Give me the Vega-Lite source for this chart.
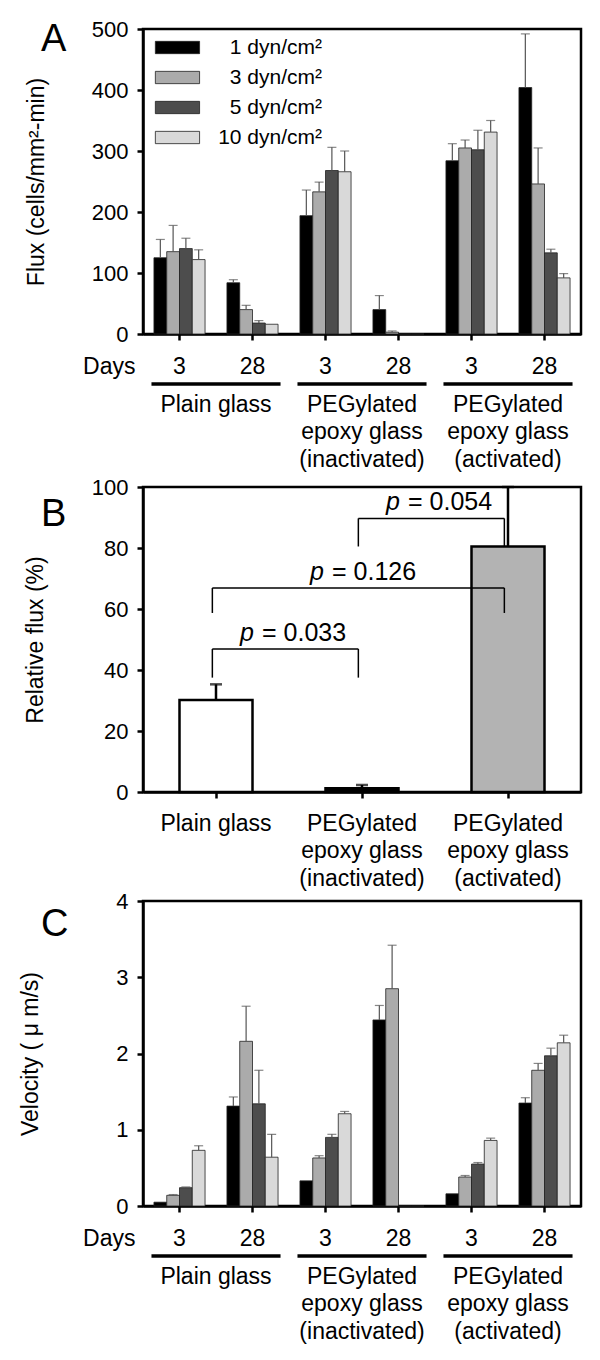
{
  "$schema": "https://vega.github.io/schema/vega-lite/v6.json",
  "background": "white",
  "padding": {"left": 17, "top": 16, "right": 5, "bottom": 5},
  "bounds": "flush",
  "spacing": 153,
  "resolve": {"scale": {"color": "independent"}, "legend": {"color": "independent"}},
  "datasets": {
    "flux": [
      {"surface": "Plain glass", "days": "3", "slot": "Plain glass 3", "shear": "1 dyn/cm²", "value": 125, "upper": 155},
      {"surface": "Plain glass", "days": "3", "slot": "Plain glass 3", "shear": "3 dyn/cm²", "value": 135, "upper": 178},
      {"surface": "Plain glass", "days": "3", "slot": "Plain glass 3", "shear": "5 dyn/cm²", "value": 140, "upper": 157},
      {"surface": "Plain glass", "days": "3", "slot": "Plain glass 3", "shear": "10 dyn/cm²", "value": 122, "upper": 138},
      {"surface": "Plain glass", "days": "28", "slot": "Plain glass 28", "shear": "1 dyn/cm²", "value": 84, "upper": 89},
      {"surface": "Plain glass", "days": "28", "slot": "Plain glass 28", "shear": "3 dyn/cm²", "value": 40, "upper": 47},
      {"surface": "Plain glass", "days": "28", "slot": "Plain glass 28", "shear": "5 dyn/cm²", "value": 18, "upper": 22},
      {"surface": "Plain glass", "days": "28", "slot": "Plain glass 28", "shear": "10 dyn/cm²", "value": 16, "upper": null},
      {"surface": "PEGylated epoxy glass (inactivated)", "days": "3", "slot": "Inactivated 3", "shear": "1 dyn/cm²", "value": 194, "upper": 236},
      {"surface": "PEGylated epoxy glass (inactivated)", "days": "3", "slot": "Inactivated 3", "shear": "3 dyn/cm²", "value": 233, "upper": 249},
      {"surface": "PEGylated epoxy glass (inactivated)", "days": "3", "slot": "Inactivated 3", "shear": "5 dyn/cm²", "value": 268, "upper": 306},
      {"surface": "PEGylated epoxy glass (inactivated)", "days": "3", "slot": "Inactivated 3", "shear": "10 dyn/cm²", "value": 266, "upper": 300},
      {"surface": "PEGylated epoxy glass (inactivated)", "days": "28", "slot": "Inactivated 28", "shear": "1 dyn/cm²", "value": 40, "upper": 63},
      {"surface": "PEGylated epoxy glass (inactivated)", "days": "28", "slot": "Inactivated 28", "shear": "3 dyn/cm²", "value": 3, "upper": 5},
      {"surface": "PEGylated epoxy glass (inactivated)", "days": "28", "slot": "Inactivated 28", "shear": "5 dyn/cm²", "value": 0, "upper": null},
      {"surface": "PEGylated epoxy glass (inactivated)", "days": "28", "slot": "Inactivated 28", "shear": "10 dyn/cm²", "value": 0, "upper": null},
      {"surface": "PEGylated epoxy glass (activated)", "days": "3", "slot": "Activated 3", "shear": "1 dyn/cm²", "value": 284, "upper": 312},
      {"surface": "PEGylated epoxy glass (activated)", "days": "3", "slot": "Activated 3", "shear": "3 dyn/cm²", "value": 305, "upper": 318},
      {"surface": "PEGylated epoxy glass (activated)", "days": "3", "slot": "Activated 3", "shear": "5 dyn/cm²", "value": 302, "upper": 334},
      {"surface": "PEGylated epoxy glass (activated)", "days": "3", "slot": "Activated 3", "shear": "10 dyn/cm²", "value": 331, "upper": 350},
      {"surface": "PEGylated epoxy glass (activated)", "days": "28", "slot": "Activated 28", "shear": "1 dyn/cm²", "value": 404, "upper": 492},
      {"surface": "PEGylated epoxy glass (activated)", "days": "28", "slot": "Activated 28", "shear": "3 dyn/cm²", "value": 246, "upper": 305},
      {"surface": "PEGylated epoxy glass (activated)", "days": "28", "slot": "Activated 28", "shear": "5 dyn/cm²", "value": 133, "upper": 139},
      {"surface": "PEGylated epoxy glass (activated)", "days": "28", "slot": "Activated 28", "shear": "10 dyn/cm²", "value": 92, "upper": 99}
    ],
    "velocity": [
      {"surface": "Plain glass", "days": "3", "slot": "Plain glass 3", "shear": "1 dyn/cm²", "value": 0.05, "upper": null},
      {"surface": "Plain glass", "days": "3", "slot": "Plain glass 3", "shear": "3 dyn/cm²", "value": 0.14, "upper": 0.15},
      {"surface": "Plain glass", "days": "3", "slot": "Plain glass 3", "shear": "5 dyn/cm²", "value": 0.24, "upper": 0.25},
      {"surface": "Plain glass", "days": "3", "slot": "Plain glass 3", "shear": "10 dyn/cm²", "value": 0.73, "upper": 0.79},
      {"surface": "Plain glass", "days": "28", "slot": "Plain glass 28", "shear": "1 dyn/cm²", "value": 1.31, "upper": 1.43},
      {"surface": "Plain glass", "days": "28", "slot": "Plain glass 28", "shear": "3 dyn/cm²", "value": 2.16, "upper": 2.62},
      {"surface": "Plain glass", "days": "28", "slot": "Plain glass 28", "shear": "5 dyn/cm²", "value": 1.34, "upper": 1.78},
      {"surface": "Plain glass", "days": "28", "slot": "Plain glass 28", "shear": "10 dyn/cm²", "value": 0.64, "upper": 0.94},
      {"surface": "PEGylated epoxy glass (inactivated)", "days": "3", "slot": "Inactivated 3", "shear": "1 dyn/cm²", "value": 0.33, "upper": null},
      {"surface": "PEGylated epoxy glass (inactivated)", "days": "3", "slot": "Inactivated 3", "shear": "3 dyn/cm²", "value": 0.63, "upper": 0.66},
      {"surface": "PEGylated epoxy glass (inactivated)", "days": "3", "slot": "Inactivated 3", "shear": "5 dyn/cm²", "value": 0.9, "upper": 0.94},
      {"surface": "PEGylated epoxy glass (inactivated)", "days": "3", "slot": "Inactivated 3", "shear": "10 dyn/cm²", "value": 1.21, "upper": 1.24},
      {"surface": "PEGylated epoxy glass (inactivated)", "days": "28", "slot": "Inactivated 28", "shear": "1 dyn/cm²", "value": 2.44, "upper": 2.63},
      {"surface": "PEGylated epoxy glass (inactivated)", "days": "28", "slot": "Inactivated 28", "shear": "3 dyn/cm²", "value": 2.85, "upper": 3.42},
      {"surface": "PEGylated epoxy glass (inactivated)", "days": "28", "slot": "Inactivated 28", "shear": "5 dyn/cm²", "value": 0, "upper": null},
      {"surface": "PEGylated epoxy glass (inactivated)", "days": "28", "slot": "Inactivated 28", "shear": "10 dyn/cm²", "value": 0, "upper": null},
      {"surface": "PEGylated epoxy glass (activated)", "days": "3", "slot": "Activated 3", "shear": "1 dyn/cm²", "value": 0.16, "upper": null},
      {"surface": "PEGylated epoxy glass (activated)", "days": "3", "slot": "Activated 3", "shear": "3 dyn/cm²", "value": 0.38, "upper": 0.4},
      {"surface": "PEGylated epoxy glass (activated)", "days": "3", "slot": "Activated 3", "shear": "5 dyn/cm²", "value": 0.55, "upper": 0.57},
      {"surface": "PEGylated epoxy glass (activated)", "days": "3", "slot": "Activated 3", "shear": "10 dyn/cm²", "value": 0.86, "upper": 0.89},
      {"surface": "PEGylated epoxy glass (activated)", "days": "28", "slot": "Activated 28", "shear": "1 dyn/cm²", "value": 1.35, "upper": 1.42},
      {"surface": "PEGylated epoxy glass (activated)", "days": "28", "slot": "Activated 28", "shear": "3 dyn/cm²", "value": 1.78, "upper": 1.87},
      {"surface": "PEGylated epoxy glass (activated)", "days": "28", "slot": "Activated 28", "shear": "5 dyn/cm²", "value": 1.97, "upper": 2.07},
      {"surface": "PEGylated epoxy glass (activated)", "days": "28", "slot": "Activated 28", "shear": "10 dyn/cm²", "value": 2.14, "upper": 2.24}
    ],
    "groups": [
      {"surface": "Plain glass"},
      {"surface": "PEGylated|epoxy glass|(inactivated)"},
      {"surface": "PEGylated|epoxy glass|(activated)"}
    ],
    "relative": [
      {"surface": "Plain glass", "relflux": 30.2, "upper": 35.3},
      {"surface": "PEGylated|epoxy glass|(inactivated)", "relflux": 1.2, "upper": 2.3},
      {"surface": "PEGylated|epoxy glass|(activated)", "relflux": 80.5, "upper": 100}
    ],
    "brackets": [
      {"from": "Plain glass", "to": "PEGylated|epoxy glass|(inactivated)", "span": 1, "height": 46.9, "foot": 37.5, "label": "= 0.033"},
      {"from": "Plain glass", "to": "PEGylated|epoxy glass|(activated)", "span": 2, "height": 66.9, "foot": 58.7, "label": "= 0.126"},
      {"from": "PEGylated|epoxy glass|(inactivated)", "to": "PEGylated|epoxy glass|(activated)", "span": 1, "height": 89.7, "foot": 80.5, "label": "= 0.054"}
    ]
  },
  "vconcat": [
    {
      "width": 438,
      "height": 305,
      "title": {"text": "A", "dx": -102, "dy": 45},
      "layer": [
        {
          "data": {"name": "flux"},
          "layer": [
            {
              "mark": {"type": "bar", "stroke": "#222", "strokeWidth": 0.8},
              "encoding": {
                "x": {"field": "slot", "type": "nominal", "sort": null,
                  "scale": {"domain": ["Plain glass 3", "Plain glass 28", "Inactivated 3", "Inactivated 28", "Activated 3", "Activated 28"], "paddingInner": 0.3, "paddingOuter": 0.15},
                  "axis": {"orient": "bottom", "title": "Days", "titleX": -8, "titleY": 39, "titleAlign": "right", "titleBaseline": "alphabetic", "titleAngle": 0, "labelExpr": "peek(split(datum.value, ' '))", "labelAngle": 0, "labelFontSize": 23, "labelBaseline": "alphabetic", "labelPadding": 33}},
                "xOffset": {"field": "shear", "type": "nominal", "sort": null, "scale": {"domain": ["1 dyn/cm²", "3 dyn/cm²", "5 dyn/cm²", "10 dyn/cm²"], "paddingInner": 0, "paddingOuter": 0}},
                "y": {"field": "value", "type": "quantitative", "scale": {"domain": [0, 500], "nice": false},
                  "axis": {"title": "Flux (cells/mm²-min)", "values": [0, 100, 200, 300, 400, 500], "titleX": -107, "titleY": 152.5, "titleAlign": "center", "titleBaseline": "middle", "labelPadding": 9}},
                "color": {"field": "shear", "type": "nominal", "sort": null,
                  "scale": {"domain": ["1 dyn/cm²", "3 dyn/cm²", "5 dyn/cm²", "10 dyn/cm²"], "range": ["#000000", "#ababab", "#4d4d4d", "#d9d9d9"]},
                  "legend": {"title": null, "orient": "top-left", "offset": 8, "padding": 0, "symbolType": "M-1,-1H6.2V1H-1Z", "symbolSize": 151, "symbolStrokeColor": "#222", "symbolStrokeWidth": 0.8, "symbolOpacity": 1, "labelFontSize": 21, "labelAlign": "right", "labelOffset": 150, "labelLimit": 0, "labelColor": "black", "rowPadding": 8}}
              }
            },
            {
              "transform": [{"filter": "isValid(datum.upper)"}],
              "mark": {"type": "rule", "color": "#555", "strokeWidth": 1.2},
              "encoding": {
                "x": {"field": "slot", "type": "nominal", "sort": null},
                "xOffset": {"field": "shear", "type": "nominal", "sort": null},
                "y": {"field": "value", "type": "quantitative"},
                "y2": {"field": "upper"}
              }
            },
            {
              "transform": [{"filter": "isValid(datum.upper)"}],
              "mark": {"type": "tick", "color": "#555", "thickness": 1.2, "size": 9, "orient": "horizontal"},
              "encoding": {
                "x": {"field": "slot", "type": "nominal", "sort": null},
                "xOffset": {"field": "shear", "type": "nominal", "sort": null},
                "y": {"field": "upper", "type": "quantitative"}
              }
            }
          ]
        },
        {
          "data": {"name": "groups"},
          "mark": {"type": "rect", "color": "black"},
          "encoding": {
            "x": {"field": "surface", "type": "nominal", "sort": null,
              "scale": {"domain": ["Plain glass", "PEGylated|epoxy glass|(inactivated)", "PEGylated|epoxy glass|(activated)"], "paddingInner": 0.116, "paddingOuter": 0.058},
              "axis": {"orient": "bottom", "title": null, "domain": false, "ticks": false, "labelPadding": 77, "labelBaseline": "alphabetic", "labelExpr": "split(datum.value, '|')", "labelFontSize": 23, "labelLineHeight": 27.5, "labelAngle": 0, "labelLimit": 0, "labelOverlap": false}},
            "y": {"datum": -79, "type": "quantitative", "scale": {"domain": [0, 500], "nice": false}},
            "y2": {"datum": -85}
          }
        }
      ],
      "resolve": {"scale": {"x": "independent"}, "axis": {"x": "independent"}}
    },
    {
      "bounds": "flush",
      "spacing": 109,
      "resolve": {"scale": {"color": "independent"}, "legend": {"color": "independent"}},
      "vconcat": [
        {
          "width": 438,
          "height": 305,
          "title": {"text": "B", "dx": -102, "dy": 62},
          "layer": [
            {
              "data": {"name": "relative"},
              "mark": {"type": "bar", "stroke": "black", "strokeWidth": 2.5},
              "encoding": {
                "x": {"field": "surface", "type": "nominal", "sort": null,
                  "scale": {"domain": ["Plain glass", "PEGylated|epoxy glass|(inactivated)", "PEGylated|epoxy glass|(activated)"], "paddingInner": 0.5, "paddingOuter": 0.25},
                  "axis": {"orient": "bottom", "title": null, "labelExpr": "split(datum.value, '|')", "labelAngle": 0, "labelFontSize": 23, "labelBaseline": "alphabetic", "labelPadding": 32, "labelLineHeight": 27.5, "labelLimit": 0, "labelOverlap": false}},
                "y": {"field": "relflux", "type": "quantitative", "scale": {"domain": [0, 100], "nice": false},
                  "axis": {"title": "Relative flux (%)", "values": [0, 20, 40, 60, 80, 100], "titleX": -108, "titleY": 152.5, "titleAlign": "center", "titleBaseline": "middle", "labelPadding": 9}},
                "color": {"field": "surface", "type": "nominal", "sort": null,
                  "scale": {"domain": ["Plain glass", "PEGylated|epoxy glass|(inactivated)", "PEGylated|epoxy glass|(activated)"], "range": ["#ffffff", "#000000", "#b3b3b3"]},
                  "legend": null}
              }
            },
            {
              "data": {"name": "relative"},
              "mark": {"type": "rule", "color": "black", "strokeWidth": 2.5},
              "encoding": {
                "x": {"field": "surface", "type": "nominal", "sort": null},
                "y": {"field": "relflux", "type": "quantitative"},
                "y2": {"field": "upper"}
              }
            },
            {
              "data": {"name": "relative"},
              "mark": {"type": "tick", "color": "black", "thickness": 2.5, "size": 12, "orient": "horizontal"},
              "encoding": {
                "x": {"field": "surface", "type": "nominal", "sort": null},
                "y": {"field": "upper", "type": "quantitative"}
              }
            },
            {
              "data": {"name": "brackets"},
              "mark": {"type": "rule", "color": "black", "strokeWidth": 1.5},
              "encoding": {
                "x": {"field": "from", "type": "nominal", "sort": null, "bandPosition": 0.45},
                "x2": {"field": "to", "bandPosition": 0.45},
                "y": {"field": "height", "type": "quantitative"}
              }
            },
            {
              "data": {"name": "brackets"},
              "mark": {"type": "rule", "color": "black", "strokeWidth": 1.5},
              "encoding": {
                "x": {"field": "from", "type": "nominal", "sort": null, "bandPosition": 0.45},
                "y": {"field": "height", "type": "quantitative"},
                "y2": {"field": "foot"}
              }
            },
            {
              "data": {"name": "brackets"},
              "mark": {"type": "rule", "color": "black", "strokeWidth": 1.5},
              "encoding": {
                "x": {"field": "to", "type": "nominal", "sort": null, "bandPosition": 0.45},
                "y": {"field": "height", "type": "quantitative"},
                "y2": {"field": "foot"}
              }
            },
            {
              "data": {"name": "brackets"},
              "transform": [{"filter": "datum.span == 1"}],
              "mark": {"type": "text", "text": "p", "fontStyle": "italic", "fontSize": 25, "align": "right", "baseline": "alphabetic", "dx": -35, "dy": -8, "color": "black"},
              "encoding": {
                "x": {"field": "from", "type": "nominal", "sort": null, "bandPosition": 1.5},
                "y": {"field": "height", "type": "quantitative"}
              }
            },
            {
              "data": {"name": "brackets"},
              "transform": [{"filter": "datum.span == 1"}],
              "mark": {"type": "text", "fontSize": 25, "align": "left", "baseline": "alphabetic", "dx": -27, "dy": -8, "color": "black"},
              "encoding": {
                "x": {"field": "from", "type": "nominal", "sort": null, "bandPosition": 1.5},
                "y": {"field": "height", "type": "quantitative"},
                "text": {"field": "label"}
              }
            },
            {
              "data": {"name": "brackets"},
              "transform": [{"filter": "datum.span == 2"}],
              "mark": {"type": "text", "text": "p", "fontStyle": "italic", "fontSize": 25, "align": "right", "baseline": "alphabetic", "dx": -38, "dy": -8, "color": "black"},
              "encoding": {
                "x": {"field": "from", "type": "nominal", "sort": null, "bandPosition": 2.5},
                "y": {"field": "height", "type": "quantitative"}
              }
            },
            {
              "data": {"name": "brackets"},
              "transform": [{"filter": "datum.span == 2"}],
              "mark": {"type": "text", "fontSize": 25, "align": "left", "baseline": "alphabetic", "dx": -30, "dy": -8, "color": "black"},
              "encoding": {
                "x": {"field": "from", "type": "nominal", "sort": null, "bandPosition": 2.5},
                "y": {"field": "height", "type": "quantitative"},
                "text": {"field": "label"}
              }
            }
          ]
        },
        {
          "width": 438,
          "height": 305,
          "title": {"text": "C", "dx": -102, "dy": 58},
          "layer": [
            {
              "data": {"name": "velocity"},
              "layer": [
                {
                  "mark": {"type": "bar", "stroke": "#222", "strokeWidth": 0.8},
                  "encoding": {
                    "x": {"field": "slot", "type": "nominal", "sort": null,
                      "scale": {"domain": ["Plain glass 3", "Plain glass 28", "Inactivated 3", "Inactivated 28", "Activated 3", "Activated 28"], "paddingInner": 0.3, "paddingOuter": 0.15},
                      "axis": {"orient": "bottom", "title": "Days", "titleX": -8, "titleY": 39, "titleAlign": "right", "titleBaseline": "alphabetic", "titleAngle": 0, "labelExpr": "peek(split(datum.value, ' '))", "labelAngle": 0, "labelFontSize": 23, "labelBaseline": "alphabetic", "labelPadding": 33}},
                    "xOffset": {"field": "shear", "type": "nominal", "sort": null, "scale": {"domain": ["1 dyn/cm²", "3 dyn/cm²", "5 dyn/cm²", "10 dyn/cm²"], "paddingInner": 0, "paddingOuter": 0}},
                    "y": {"field": "value", "type": "quantitative", "scale": {"domain": [0, 4], "nice": false},
                      "axis": {"title": "Velocity ( μ m/s)", "values": [0, 1, 2, 3, 4], "format": "d", "titleX": -113, "titleY": 152.5, "titleAlign": "center", "titleBaseline": "middle", "labelPadding": 9}},
                    "color": {"field": "shear", "type": "nominal", "sort": null,
                      "scale": {"domain": ["1 dyn/cm²", "3 dyn/cm²", "5 dyn/cm²", "10 dyn/cm²"], "range": ["#000000", "#ababab", "#4d4d4d", "#d9d9d9"]},
                      "legend": null}
                  }
                },
                {
                  "transform": [{"filter": "isValid(datum.upper)"}],
                  "mark": {"type": "rule", "color": "#555", "strokeWidth": 1.2},
                  "encoding": {
                    "x": {"field": "slot", "type": "nominal", "sort": null},
                    "xOffset": {"field": "shear", "type": "nominal", "sort": null},
                    "y": {"field": "value", "type": "quantitative"},
                    "y2": {"field": "upper"}
                  }
                },
                {
                  "transform": [{"filter": "isValid(datum.upper)"}],
                  "mark": {"type": "tick", "color": "#555", "thickness": 1.2, "size": 9, "orient": "horizontal"},
                  "encoding": {
                    "x": {"field": "slot", "type": "nominal", "sort": null},
                    "xOffset": {"field": "shear", "type": "nominal", "sort": null},
                    "y": {"field": "upper", "type": "quantitative"}
                  }
                }
              ]
            },
            {
              "data": {"name": "groups"},
              "mark": {"type": "rect", "color": "black"},
              "encoding": {
                "x": {"field": "surface", "type": "nominal", "sort": null,
                  "scale": {"domain": ["Plain glass", "PEGylated|epoxy glass|(inactivated)", "PEGylated|epoxy glass|(activated)"], "paddingInner": 0.116, "paddingOuter": 0.058},
                  "axis": {"orient": "bottom", "title": null, "domain": false, "ticks": false, "labelPadding": 77, "labelBaseline": "alphabetic", "labelExpr": "split(datum.value, '|')", "labelFontSize": 23, "labelLineHeight": 27.5, "labelAngle": 0, "labelLimit": 0, "labelOverlap": false}},
                "y": {"datum": -0.633, "type": "quantitative", "scale": {"domain": [0, 4], "nice": false}},
                "y2": {"datum": -0.679}
              }
            }
          ],
          "resolve": {"scale": {"x": "independent"}, "axis": {"x": "independent"}}
        }
      ]
    }
  ],
  "config": {
    "font": "Liberation Sans",
    "view": {"stroke": "black", "strokeWidth": 2.5},
    "axis": {"domainColor": "black", "domainWidth": 2.5, "tickColor": "black", "tickWidth": 2.5, "tickSize": 6, "labelColor": "black", "titleColor": "black", "labelFontSize": 22, "titleFontSize": 23, "titleFontWeight": "normal", "grid": false, "labelFont": "Liberation Sans", "titleFont": "Liberation Sans"},
    "title": {"fontSize": 38, "fontWeight": "normal", "color": "black", "anchor": "start", "frame": "group", "baseline": "alphabetic", "offset": 0, "font": "Liberation Sans"},
    "legend": {"labelFont": "Liberation Sans"}
  }
}
